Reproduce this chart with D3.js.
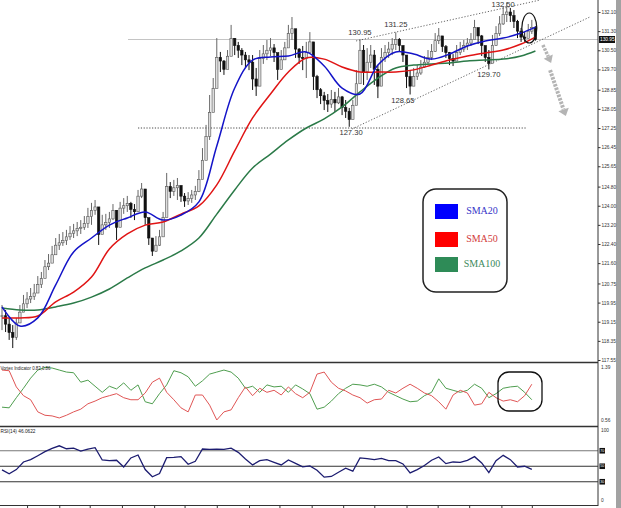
<!DOCTYPE html>
<html><head><meta charset="utf-8">
<script src="https://cdn.jsdelivr.net/npm/d3@7"></script>
<style>body{margin:0;background:#fff}svg{display:block}</style>
</head><body>
<svg id="c" width="621" height="508"></svg>
<script>
// ---------- DATA ----------
const high=[119.85,119.64,119.31,119.01,119.31,119.85,120.27,120.39,120.56,120.73,
121.06,121.23,121.73,121.98,122.32,122.65,122.82,122.90,122.99,123.15,
123.24,123.32,123.40,123.57,123.91,124.12,124.24,123.62,123.62,123.66,
123.74,124.07,123.82,124.16,124.32,124.41,124.16,124.07,124.66,124.95,
124.57,123.32,122.57,122.73,122.99,123.74,125.37,124.99,125.08,125.16,
124.78,124.53,124.57,124.66,124.83,125.49,126.41,127.38,128.63,129.34,
131.01,130.43,130.09,130.51,131.56,131.01,130.85,130.59,130.43,130.30,
130.30,129.76,130.51,130.72,130.93,131.01,130.76,130.18,130.51,130.85,
131.56,131.89,130.93,130.59,130.68,130.85,131.26,130.30,129.47,128.92,
128.76,128.67,128.84,128.76,128.92,128.59,128.42,128.09,128.42,129.67,
130.95,130.72,130.59,130.72,130.51,129.88,130.59,130.72,130.85,131.01,
131.25,131.01,130.68,130.18,129.67,129.76,129.88,130.09,130.26,130.51,
130.76,131.22,131.43,131.01,130.72,130.43,130.34,130.72,130.85,130.93,
131.01,131.22,131.77,131.43,131.14,130.59,130.51,131.14,131.51,131.93,
132.35,132.50,132.27,132.18,131.77,131.43,131.26,131.60,131.77,131.51];
const low=[118.80,118.72,118.39,118.05,118.39,119.14,119.56,119.72,119.93,120.06,
120.39,120.56,121.06,121.31,121.65,121.98,122.15,122.32,122.36,122.57,
122.65,122.73,122.82,122.99,123.07,123.20,123.62,122.36,122.90,122.99,
123.07,123.40,122.57,123.57,123.66,123.74,123.49,123.40,123.91,124.32,
123.20,122.36,121.90,122.07,122.32,122.78,123.91,124.32,124.41,124.24,
124.16,123.95,124.03,124.12,124.24,124.57,125.41,126.33,126.75,128.34,
129.34,129.59,129.47,129.76,130.51,130.30,130.18,129.88,129.76,129.67,
128.84,128.59,129.67,129.93,130.09,130.26,130.01,129.26,129.76,130.22,
130.72,130.93,130.18,129.93,129.67,129.34,130.43,128.84,128.50,128.25,
128.00,127.92,128.09,127.92,128.25,127.79,127.67,127.30,127.67,128.42,
129.76,129.05,129.26,129.76,129.05,128.50,129.67,130.01,130.18,130.30,
130.51,130.43,130.01,128.92,128.65,129.09,129.26,129.47,129.76,129.93,
130.09,130.43,130.76,130.43,130.18,129.88,129.84,130.09,130.30,130.43,
130.51,130.68,131.01,130.76,130.26,130.01,129.70,130.09,130.68,131.10,
131.56,131.68,131.68,131.43,131.01,130.85,130.85,131.01,131.18,130.90];
const close=[119.40,119.05,118.70,118.50,119.10,119.55,119.90,120.10,120.20,120.35,
120.70,120.95,121.45,121.60,121.95,122.35,122.45,122.55,122.70,122.85,
122.95,123.05,123.10,123.25,123.55,123.80,123.95,122.80,123.20,123.30,
123.45,123.80,123.10,123.90,124.00,124.10,123.85,123.75,124.40,124.70,
123.50,122.65,122.10,122.35,122.70,123.50,124.80,124.60,124.75,124.85,
124.40,124.20,124.30,124.45,124.60,125.10,125.90,126.90,127.90,128.90,
130.20,130.05,129.70,130.25,131.00,130.70,130.50,130.30,130.10,130.00,
129.30,129.00,130.15,130.35,130.50,130.60,130.40,129.70,130.10,130.60,
131.20,131.40,130.55,130.20,130.15,130.40,130.85,129.40,128.85,128.60,
128.40,128.25,128.45,128.30,128.55,128.10,127.95,127.60,128.20,129.10,
130.50,129.60,130.00,130.30,129.70,129.00,130.20,130.40,130.55,130.75,
130.95,130.70,130.30,129.40,129.00,129.40,129.55,129.80,130.00,130.20,
130.45,130.90,131.10,130.65,130.40,130.15,130.05,130.40,130.55,130.70,
130.80,130.95,131.45,131.10,130.70,130.20,129.95,130.70,131.20,131.60,
132.00,132.10,131.95,131.70,131.30,131.05,131.00,131.30,131.45,130.95];

const smaIdx=[0,5,10,15,20,25,30,35,40,45,50,55,60,65,70,75,80,85,90,95,100,105,110,115,120,125,130,135,140,145,149];
const sma20=[119.77,118.97,119.31,120.69,122.07,122.65,123.19,123.49,123.74,123.40,123.61,124.16,126.50,128.92,130.09,130.22,130.26,130.43,129.84,128.92,128.67,129.88,130.43,130.34,130.13,130.34,130.68,130.89,131.01,131.22,131.47];
const sma50=[119.31,119.31,119.39,119.98,120.39,121.02,122.19,122.82,123.19,123.32,123.65,123.99,124.87,126.29,127.67,128.67,129.59,130.18,130.13,129.80,129.59,129.59,129.59,129.68,129.88,130.09,130.26,130.39,130.51,130.76,131.05];
const sma100=[119.72,119.64,119.64,119.77,119.93,120.18,120.52,120.98,121.40,121.73,122.11,122.65,123.65,124.66,125.58,126.16,126.75,127.25,127.63,128.13,128.76,129.34,129.76,129.88,129.93,129.97,130.05,130.09,130.13,130.26,130.47];

// indicators sampled every 2 bars (bar index = 2k)
const viMinus=[1.33,1.32,1.08,0.95,0.89,0.71,0.66,0.65,0.62,0.66,0.71,0.75,0.83,0.87,0.92,0.95,0.98,0.92,0.89,0.89,
0.99,1.15,1.21,1.00,0.89,0.77,0.71,0.96,0.96,0.81,0.59,0.71,0.74,0.92,1.08,0.95,1.06,1.00,1.03,0.96,
1.08,0.98,0.92,1.00,1.27,1.30,1.15,1.06,1.02,0.96,0.92,0.84,0.89,0.90,1.03,0.99,1.06,1.12,1.06,0.99,
0.95,0.86,0.75,0.96,1.03,0.99,0.81,0.83,1.00,0.92,0.87,0.89,0.86,0.95,1.12];
const viPlus=[0.78,0.77,0.92,1.06,1.21,1.33,1.37,1.36,1.33,1.30,1.29,1.15,1.18,1.09,1.00,1.09,1.05,1.14,1.03,1.11,
0.86,0.83,0.98,1.11,1.32,1.29,1.23,1.09,1.17,1.27,1.30,1.33,1.30,1.21,1.06,1.09,1.00,1.11,1.08,1.09,
1.00,1.11,1.05,0.98,0.75,0.78,0.87,0.98,1.06,1.12,1.11,1.09,1.12,1.08,1.00,0.95,0.90,0.86,0.87,0.95,
1.00,1.20,1.06,1.03,1.00,1.03,1.12,1.06,0.92,0.98,1.06,1.08,1.09,1.00,0.89];
const rsi=[45.3,40.2,45.7,55.5,58.5,63.6,68.8,73.0,76.4,72.6,73.4,69.6,72.2,73.9,58.1,57.2,57.7,49.1,60.7,64.5,
45.7,36.4,40.6,61.1,61.5,62.4,52.6,56.4,72.2,71.7,72.2,71.7,73.4,67.9,59.4,51.7,57.2,58.5,55.1,51.7,
58.1,53.8,49.1,50.4,44.9,35.9,36.8,42.3,47.4,43.6,60.7,59.8,58.5,60.2,57.2,57.2,53.0,41.5,45.7,50.9,
57.7,61.9,53.4,55.5,55.1,57.7,62.4,54.3,41.9,57.2,64.1,58.5,49.1,50.0,46.06];

const priceTicks=[132.10,131.30,130.50,129.70,128.85,128.05,127.25,126.45,125.65,124.80,124.00,123.20,122.40,121.60,120.75,119.95,119.15,118.35,117.55];
const viTicks=[1.39,0.56];
const rsiLevels=[70,50,30];
const timeTicks=[7,16,24.5,33.5,42.5,51,60,69,77.5,86.5,95.3,104,113,121.7,130.5,139.5,148];
const lastPrice=130.95;
const annotations=[
 {text:"130.95",bar:100,price:130.95,pos:"above"},
 {text:"131.25",bar:110,price:131.25,pos:"above"},
 {text:"132.50",bar:140,price:132.50,pos:"above"},
 {text:"128.65",bar:112,price:128.65,pos:"below"},
 {text:"127.30",bar:97.5,price:127.30,pos:"below"},
 {text:"129.70",bar:136,price:129.70,pos:"below"}];
const channelUpper=[[98.9,130.89],[150.3,132.60]];
const channelLower=[[97.8,127.21],[164.2,131.89]];
const supportLine={price:127.25,from:38,to:146.6};
const legendItems=[{name:"SMA20",color:"#0000ff",text:"#3535c8"},{name:"SMA50",color:"#ff0000",text:"#d23a3a"},{name:"SMA100",color:"#2e8b57",text:"#3d8a5c"}];

// ---------- SCALES ----------
const svg=d3.select("#c");
const x=d3.scaleLinear().domain([0,149]).range([2,535.4]);
const yP=d3.scaleLinear().domain([117.55,132.10]).range([360,12]);
const yV=d3.scaleLinear().domain([0.56,1.39]).range([422,366]);
const yR=d3.scaleLinear().domain([0,100]).range([505,427.5]);
const AX=598;

svg.append("rect").attr("width",621).attr("height",508).attr("fill","#fff");

// current price line
svg.append("line").attr("x1",x(35.2)).attr("x2",AX).attr("y1",yP(lastPrice)).attr("y2",yP(lastPrice))
  .attr("stroke","#c4c4c4").attr("stroke-width",1);

// support dotted line
svg.append("line").attr("x1",x(supportLine.from)).attr("x2",x(supportLine.to))
  .attr("y1",yP(supportLine.price)).attr("y2",yP(supportLine.price))
  .attr("stroke","#333").attr("stroke-width",0.9).attr("stroke-dasharray","1.2,1.6");

// channel
[channelUpper,channelLower].forEach(c=>{
  svg.append("line").attr("x1",x(c[0][0])).attr("y1",yP(c[0][1])).attr("x2",x(c[1][0])).attr("y2",yP(c[1][1]))
   .attr("stroke","#555").attr("stroke-width",0.9).attr("stroke-dasharray","1.2,1.8");
});

// candles
const bars=svg.append("g");
close.forEach((c,i)=>{
  const o=i>0?close[i-1]:c;
  const xi=x(i);
  const up=c>=o;
  bars.append("line").attr("x1",xi).attr("x2",xi).attr("y1",yP(high[i])).attr("y2",yP(low[i]))
    .attr("stroke",up?"#666":"#111").attr("stroke-width",1);
  const top=yP(Math.max(o,c)), bot=yP(Math.min(o,c));
  bars.append("rect").attr("x",xi-1.2).attr("width",2.4).attr("y",top).attr("height",Math.max(0.8,bot-top))
    .attr("fill",up?"#ddd":"#111").attr("stroke",up?"#555":"#111").attr("stroke-width",0.6);
});

// SMAs
const smaLine=d3.line().x((d,i)=>x(smaIdx[i])).y(d=>yP(d)).curve(d3.curveCatmullRom.alpha(0.5));
[[sma100,"#2b7a48"],[sma50,"#e01414"],[sma20,"#1414c8"]].forEach(([s,col])=>{
  svg.append("path").attr("d",smaLine(s)).attr("fill","none").attr("stroke",col).attr("stroke-width",1.5);
});

// annotations
svg.selectAll("text.ann").data(annotations).enter().append("text").attr("class","ann")
  .attr("x",d=>x(d.bar)).attr("y",d=>Math.max(4.5,yP(d.price)+(d.pos==="above"?-7:6)))
  .attr("text-anchor","middle").attr("dominant-baseline","middle")
  .attr("font-family","Liberation Sans, Arial, sans-serif").attr("font-size",7.6).attr("fill","#333")
  .text(d=>d.text);

// ellipse highlight
svg.append("ellipse").attr("cx",x(147.3)).attr("cy",yP(131.43)).attr("rx",7.5).attr("ry",15)
  .attr("fill","none").attr("stroke","#111").attr("stroke-width",1.2);

// gray arrows
function arrow(b0,p0,b1,p1,w){
  const x0=x(b0),y0=yP(p0),x1=x(b1),y1=yP(p1);
  const ang=Math.atan2(y1-y0,x1-x0), L=Math.hypot(x1-x0,y1-y0), h=7;
  const g=svg.append("g").attr("transform",`translate(${x0},${y0}) rotate(${ang*180/Math.PI})`);
  g.append("line").attr("x1",0).attr("y1",0).attr("x2",L-h).attr("y2",0)
    .attr("stroke","#b4b4b4").attr("stroke-width",w).attr("stroke-dasharray","2.5,1.2");
  g.append("path").attr("d",`M${L},0 L${L-h},${-w-1.5} L${L-h},${w+1.5} Z`).attr("fill","#b4b4b4");
}
arrow(151.1,130.72,153.4,129.97,3.5);
arrow(153.1,129.67,157.5,127.75,4);

// legend
const lg=svg.append("g");
lg.append("rect").attr("x",423).attr("y",189).attr("width",84).attr("height",103).attr("rx",13)
  .attr("fill","#fff").attr("stroke","#222").attr("stroke-width",1.5);
const ly=[204,232,257];
legendItems.forEach((d,i)=>{
  lg.append("rect").attr("x",435).attr("y",ly[i]).attr("width",23).attr("height",15).attr("fill",d.color);
  lg.append("text").attr("x",482).attr("y",ly[i]+8).attr("text-anchor","middle").attr("dominant-baseline","middle")
    .attr("font-family","Liberation Serif, Times New Roman, serif").attr("font-size",10).attr("fill",d.text).text(d.name);
});

// ---------- Vortex panel ----------
const vLine=d3.line().x((d,k)=>x(2*k)).y(d=>yV(d));
svg.append("path").attr("d",vLine(viPlus)).attr("fill","none").attr("stroke","#4f9e4f").attr("stroke-width",1);
svg.append("path").attr("d",vLine(viMinus)).attr("fill","none").attr("stroke","#e05555").attr("stroke-width",1);
svg.append("rect").attr("x",498).attr("y",372).attr("width",44).attr("height",39).attr("rx",11)
  .attr("fill","none").attr("stroke","#111").attr("stroke-width",1.3);
svg.append("text").attr("x",0.5).attr("y",369).attr("dominant-baseline","middle")
  .attr("font-family","Liberation Sans, Arial, sans-serif").attr("font-size",5.2).attr("fill","#222")
  .attr("textLength",50).attr("lengthAdjust","spacingAndGlyphs").text("Vortex Indicator 0.83,0.86");

// ---------- RSI panel ----------
rsiLevels.forEach(v=>{
  svg.append("line").attr("x1",0).attr("x2",AX).attr("y1",yR(v)).attr("y2",yR(v))
    .attr("stroke",v===70?"#777":"#333").attr("stroke-width",1);
});
const rLine=d3.line().x((d,k)=>x(2*k)).y(d=>yR(d));
svg.append("path").attr("d",rLine(rsi)).attr("fill","none").attr("stroke","#1c1c70").attr("stroke-width",1.3);
svg.append("text").attr("x",0.5).attr("y",432).attr("dominant-baseline","middle")
  .attr("font-family","Liberation Sans, Arial, sans-serif").attr("font-size",5.2).attr("fill","#222")
  .attr("textLength",35).attr("lengthAdjust","spacingAndGlyphs").text("RSI(14) 46.0622");

// ---------- frames & axes ----------
svg.append("line").attr("x1",0).attr("x2",AX).attr("y1",362.5).attr("y2",362.5).attr("stroke","#333").attr("stroke-width",1.3);
svg.append("line").attr("x1",0).attr("x2",AX).attr("y1",426.5).attr("y2",426.5).attr("stroke","#333").attr("stroke-width",1.3);
svg.append("line").attr("x1",0).attr("x2",AX).attr("y1",505.5).attr("y2",505.5).attr("stroke","#333").attr("stroke-width",1);
svg.append("line").attr("x1",AX).attr("x2",AX).attr("y1",0).attr("y2",506).attr("stroke","#333").attr("stroke-width",1);
svg.append("rect").attr("x",616).attr("y",0).attr("width",5).attr("height",508).attr("fill","#a2a2a2");

const fontAx="Liberation Sans, Arial, sans-serif";
const pAxis=svg.append("g").attr("transform",`translate(${AX},0)`)
  .call(d3.axisRight(yP).tickValues(priceTicks).tickSize(2.5).tickPadding(1).tickFormat(d3.format(".2f")));
pAxis.select(".domain").remove();
pAxis.selectAll("text").attr("font-family",fontAx).attr("font-size",4.8).attr("fill","#333");
pAxis.selectAll("line").attr("stroke","#333");

// last price box
svg.append("rect").attr("x",AX+1).attr("y",yP(lastPrice)-3.5).attr("width",16).attr("height",7).attr("fill","#111");
svg.append("text").attr("x",AX+2).attr("y",yP(lastPrice)).attr("dominant-baseline","middle")
  .attr("font-family",fontAx).attr("font-size",4.8).attr("fill","#fff").text(d3.format(".2f")(lastPrice));

// vortex axis labels
svg.selectAll("text.vt").data(viTicks).enter().append("text").attr("class","vt")
  .attr("x",AX+3).attr("y",(d,i)=>yV(d)+(i===0?1.5:-1)).attr("dominant-baseline","middle")
  .attr("font-family",fontAx).attr("font-size",4.8).attr("fill","#333").text(d=>d.toFixed(2));

// rsi axis labels
[[100,3],[0,-4]].forEach(([v,dy])=>{
  svg.append("text").attr("x",AX+3).attr("y",yR(v)+dy).attr("dominant-baseline","middle")
    .attr("font-family",fontAx).attr("font-size",4.8).attr("fill","#333").text(v);
});
rsiLevels.forEach(v=>{
  svg.append("rect").attr("x",AX+1.5).attr("y",yR(v)-2.8).attr("width",5.5).attr("height",5.6).attr("fill","#111");
  svg.append("text").attr("x",AX+4.2).attr("y",yR(v)).attr("text-anchor","middle").attr("dominant-baseline","middle")
    .attr("font-family",fontAx).attr("font-size",3.6).attr("fill","#fff").text(v);
});

// time axis ticks
const tAxis=svg.append("g").attr("transform","translate(0,505.5)")
  .call(d3.axisBottom(x).tickValues(timeTicks).tickSize(2.5).tickFormat(""));
tAxis.select(".domain").remove();
tAxis.selectAll("line").attr("stroke","#333");
</script>
</body></html>
